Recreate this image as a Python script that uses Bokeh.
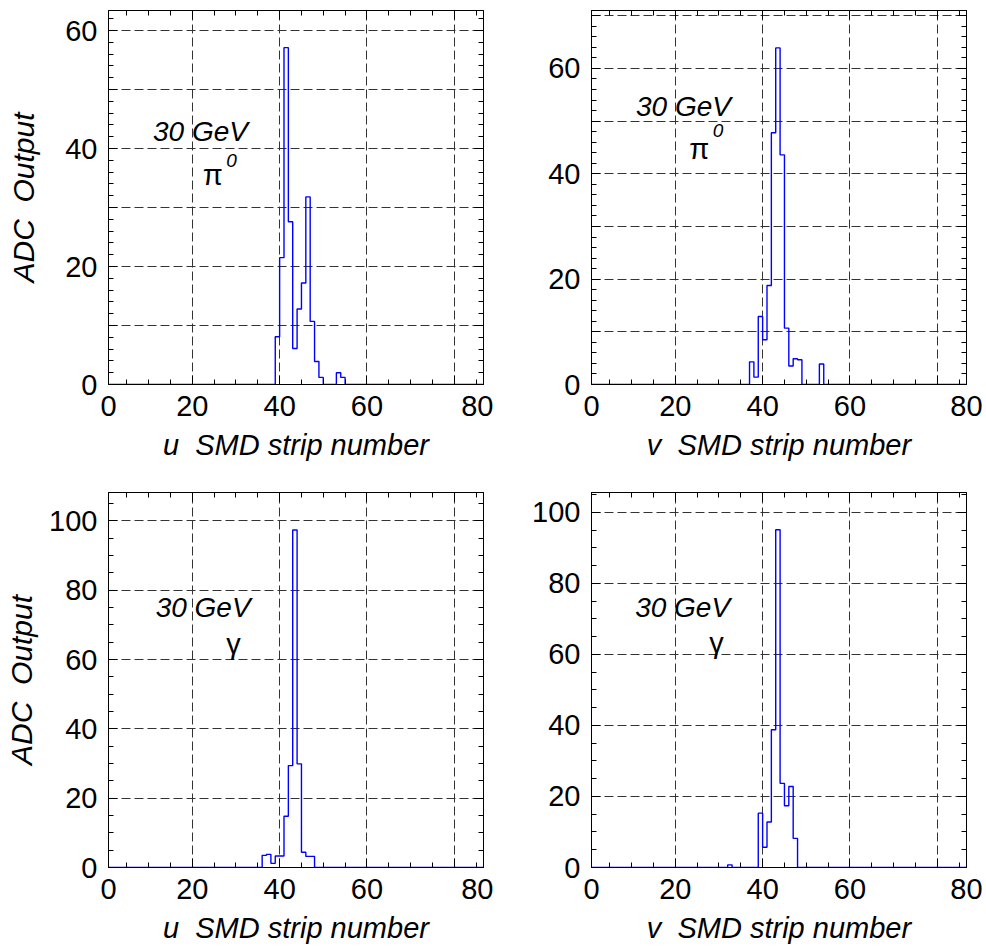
from bokeh.plotting import figure
from bokeh.layouts import gridplot
from bokeh.models import FixedTicker, LinearAxis, Range1d, Label
from bokeh.embed import file_html
from bokeh.resources import INLINE

# ---------------- data ----------------
x_major = [20, 40, 60, 80]
x_minor = [5, 10, 15, 25, 30, 35, 45, 50, 55, 65, 70, 75, 85]

# u strips, 30 GeV pi0 (bins start at tl_first, width 1)
tl_first = 39
tl_adc = [8.1, 21.5, 57.1, 27.6, 6.1, 12.8, 17.2, 31.8, 10.7, 3.9, 1.2, 0, 0, 0, 2.0, 1.2]
# v strips, 30 GeV pi0
tr_first = 37
tr_adc = [4.3, 1.4, 12.9, 8.5, 18.8, 47.8, 63.9, 43.6, 10.7, 3.5, 4.9, 4.7, 0, 0, 0, 0, 3.9]
# u strips, 30 GeV gamma
bl_first = 36
bl_adc = [3.5, 3.8, 1.2, 3.3, 3.3, 14.8, 29.4, 97.4, 29.9, 4.4, 3.2, 3.2]
# v strips, 30 GeV gamma
br_first = 32
br_adc = [0.75, 0, 0, 0, 0, 0, 0, 15.3, 5.7, 12.8, 38.8, 95.1, 23.7, 17.4, 22.8, 8.2]

FONT = "Liberation Sans"
X0, X1 = 0.8, 86.7


def make_panel(first, adc, ymax, y_major, y_labelled, y_minor, grid_y,
               xlabel, ylabel, ylabel_standoff, particle, txt_pos, w, h, borders):
    bl, br, bt, bb = borders
    p = figure(width=w, height=h, output_backend="svg", toolbar_location=None,
               x_range=Range1d(X0, X1), y_range=Range1d(0, ymax),
               min_border_left=bl, min_border_right=br,
               min_border_top=bt, min_border_bottom=bb)
    p.outline_line_color = "black"
    p.outline_line_width = 1
    p.background_fill_color = "white"
    p.border_fill_color = "white"

    bottom = p.below[0]
    left = p.left[0]

    x_ticks = [X0] + x_major + [X1]
    x_over = {X0: "0", 20: "20", 40: "40", 60: "60", 80: "", X1: "80"}
    y_over = {v: (str(v) if v in y_labelled else "") for v in y_major}

    bottom.ticker = FixedTicker(ticks=x_ticks, minor_ticks=x_minor)
    bottom.major_label_overrides = x_over
    left.ticker = FixedTicker(ticks=y_major, minor_ticks=y_minor)
    left.major_label_overrides = y_over

    top = LinearAxis(ticker=FixedTicker(ticks=x_ticks, minor_ticks=x_minor),
                     major_label_overrides={v: "" for v in x_ticks},
                     major_label_standoff=0)
    right = LinearAxis(ticker=FixedTicker(ticks=y_major, minor_ticks=y_minor),
                       major_label_overrides={v: "" for v in y_major},
                       major_label_standoff=0)
    p.add_layout(top, "above")
    p.add_layout(right, "right")

    for ax in [bottom, left, top, right]:
        ax.major_tick_in = 9
        ax.major_tick_out = 0
        ax.minor_tick_in = 5
        ax.minor_tick_out = 0
        ax.axis_line_color = "black"
        ax.major_tick_line_color = "black"
        ax.minor_tick_line_color = "black"
    for ax in [bottom, left]:
        ax.major_label_text_font = FONT
        ax.major_label_text_font_size = "29px"
        ax.major_label_text_color = "black"
        ax.major_label_standoff = 11
        ax.axis_label_text_font = FONT
        ax.axis_label_text_font_style = "italic"
        ax.axis_label_text_color = "black"
    bottom.axis_label = xlabel
    bottom.axis_label_text_font_size = "29px"
    bottom.axis_label_standoff = 10
    if ylabel:
        left.axis_label = ylabel
        left.axis_label_text_font_size = "30px"
        left.axis_label_standoff = ylabel_standoff

    p.xgrid.ticker = FixedTicker(ticks=x_major)
    p.ygrid.ticker = FixedTicker(ticks=grid_y)
    for g in [p.xgrid, p.ygrid]:
        g.grid_line_color = "#333333"
        g.grid_line_dash = "9 4"
        g.grid_line_width = 1

    # histogram as a step outline
    xs = [0] + [first + i for i in range(len(adc))] + [first + len(adc), 88]
    ys = [0] + list(adc) + [0, 0]
    p.step(xs, ys, mode="after", line_color="#0000ff", line_width=1.4)

    (gx, gy), (px, py), (sx, sy) = txt_pos
    p.add_layout(Label(x=gx, y=gy, text="30 GeV", text_font=FONT,
                       text_font_style="italic", text_font_size="28px",
                       text_baseline="alphabetic", text_color="black"))
    p.add_layout(Label(x=px, y=py, text=particle, text_font=FONT,
                       text_font_size="29px", text_baseline="alphabetic",
                       text_color="black"))
    if sx is not None:
        p.add_layout(Label(x=sx, y=sy, text="0", text_font=FONT,
                           text_font_style="italic", text_font_size="19px",
                           text_baseline="alphabetic", text_color="black"))
    return p


XL_U = "u\u00a0\u00a0SMD strip number"
XL_V = "v\u00a0\u00a0SMD strip number"
YL = "ADC\u00a0\u00a0Output"

p1 = make_panel(tl_first, tl_adc, 63.4, [0, 10, 20, 30, 40, 50, 60], [0, 20, 40, 60],
                list(range(2, 64, 2)), [10, 20, 30, 40, 50, 60],
                XL_U, YL, 22, "\u03c0",
                ((11.0, 42.9), (22.4, 35.5), (27.8, 38.0)),
                493, 475, (108, 10, 10, 91))
p2 = make_panel(tr_first, tr_adc, 71.0, [0, 10, 20, 30, 40, 50, 60, 70], [0, 20, 40, 60],
                list(range(2, 72, 2)), [10, 20, 30, 40, 50, 60, 70],
                XL_V, None, 0, "\u03c0",
                ((11.0, 52.8), (23.2, 44.7), (28.6, 48.3)),
                493, 475, (98, 20, 10, 91))
p3 = make_panel(bl_first, bl_adc, 108.2, [0, 20, 40, 60, 80, 100], [0, 20, 40, 60, 80, 100],
                list(range(5, 108, 5)), [20, 40, 60, 80, 100],
                XL_U, YL, 8, "\u03b3",
                ((11.6, 75.0), (27.8, 64.6), (None, None)),
                493, 475, (108, 10, 17, 83))
p4 = make_panel(br_first, br_adc, 105.6, [0, 20, 40, 60, 80, 100], [0, 20, 40, 60, 80, 100],
                list(range(5, 106, 5)), [20, 40, 60, 80, 100],
                XL_V, None, 0, "\u03b3",
                ((10.8, 73.2), (27.8, 63.1), (None, None)),
                493, 475, (98, 20, 17, 83))

grid = gridplot([[p1, p2], [p3, p4]], toolbar_location=None)

open("out.html", "w").write(file_html(grid, INLINE))
